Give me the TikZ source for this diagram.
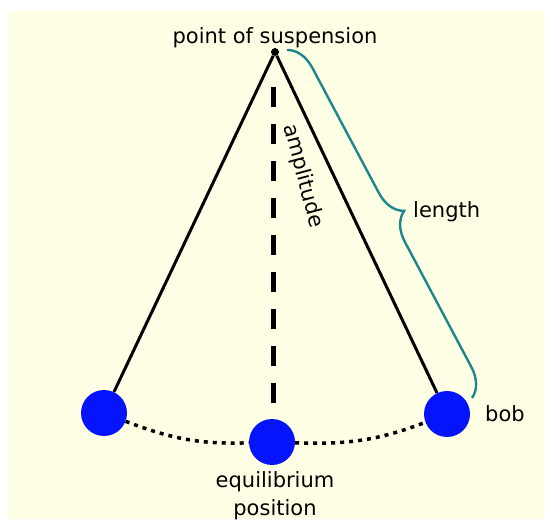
\documentclass[tikz,border=0pt]{standalone}
\usepackage{fontspec}
\setmainfont{DejaVu Sans}
\usetikzlibrary{positioning,decorations.pathreplacing}
\definecolor{paper}{RGB}{255,255,230}
\definecolor{bobblue}{RGB}{5,20,250}
\definecolor{braceteal}{RGB}{30,135,140}
\tikzset{
  bob/.style={circle,fill=bobblue,inner sep=0pt,minimum size=46pt},
  pivot/.style={circle,fill=black,inner sep=0pt,minimum size=8pt},
  lbl/.style={inner sep=0pt},
  cord/.style={line width=3pt},
  vertline/.style={line width=5pt,dash pattern=on 20pt off 17pt},
  swing/.style={line width=3.5pt,dash pattern=on 4pt off 5pt},
  lenbrace/.style={draw=braceteal,line width=2.4pt,decorate,
    decoration={brace,amplitude=28pt}}
}
\begin{document}
\begin{tikzpicture}[x=1pt,y=1pt,font=\fontsize{21}{28}\selectfont]
\useasboundingbox (0,0) rectangle (545,519);
\fill[paper] (8,0) rectangle (545,508);
% pendulum
\node[pivot] (P) at (275,467) {};
\node[bob] (L) at (104,106) {};
\node[bob] (M) at (272,77) {};
\node[bob] (R) at (447,105) {};
\draw[cord] (P) -- (L);
\draw[cord] (P) -- (R);
\coordinate (eqtop) at (273,432);
\coordinate (eqbot) at (273,116);
\draw[vertline] (eqtop) -- (eqbot);
\draw[swing] (L) to[out=-21,in=182] (M);
\draw[swing] (M) to[out=-2,in=201] (R);
% brace
\coordinate (bs) at (287,469);
\coordinate (be) at (472,121);
\draw[lenbrace] (bs) -- (be);
% labels
\node[lbl,above=0pt of P] (susp) {point of suspension};
\node[lbl,rotate=-75] (amp) at (303,343) {amplitude};
\node[lbl,anchor=base west] (len) at (413,301) {length};
\node[lbl,anchor=base west] (boblbl) at (485,98) {bob};
\node[lbl,align=center,below=6pt of M,xshift=3pt] (eq) {equilibrium\\position};
\end{tikzpicture}
\end{document}
